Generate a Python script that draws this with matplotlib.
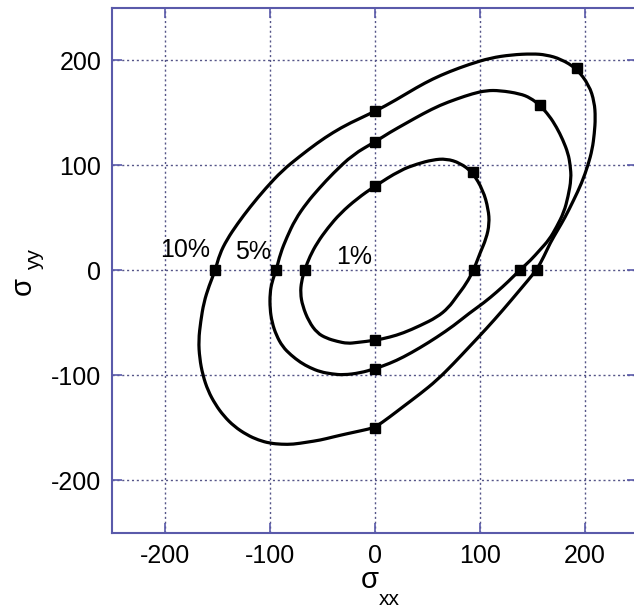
import matplotlib
matplotlib.use("Agg")
import matplotlib.pyplot as plt
from matplotlib.path import Path
from matplotlib.patches import PathPatch

plt.rcParams['font.family'] = ['Liberation Sans', 'DejaVu Sans']

# contour lines (sigma_xx, sigma_yy), closed loops
c1_x = [94, 100, 106, 109, 108, 103, 93, 81, 68, 55, 40, 24, 0, -17, -33, -45, -55, -62, -67, -70, -71, -69, -63, -55, -46, -36, -26, -17, 0, 14, 27, 43, 59, 70, 78, 87]
c1_y = [0, 16, 30, 44, 58, 76, 93, 102, 106, 105, 101, 95, 80, 68, 54, 40, 26, 13, 0, -11, -22, -34, -49, -60, -65, -68, -70, -69, -67, -64, -60, -53, -45, -36, -25, -13]

c5_x = [138, 148, 157, 166, 173, 180, 184, 187, 186, 184, 179, 173, 166, 157, 148, 138, 119, 106, 93, 78, 62, 46, 30, 14, 0, -21, -40, -53, -65, -76, -84, -90, -94, -98, -100, -100, -98, -94, -88, -80, -71, -62, -52, -41, -30, -14, 0, 14, 27, 43, 59, 75, 90, 104, 116, 127]
c5_y = [0, 9, 19, 29, 41, 55, 70, 87, 100, 111, 124, 136, 147, 157, 164, 168, 171, 171, 168, 163, 157, 149, 140, 131, 122, 110, 92, 78, 64, 48, 31, 16, 0, -11, -22, -37, -50, -62, -73, -81, -88, -93, -97, -99, -100, -98, -94, -89, -83, -74, -64, -53, -41, -31, -21, -11]

c10_x = [154, 161, 167, 174, 181, 189, 197, 203, 207, 209, 210, 209, 204, 192, 177, 163, 150, 130, 110, 90, 71, 55, 40, 20, 0, -24, -40, -55, -72, -88, -104, -119, -131, -141, -148, -152, -158, -163, -166, -168, -167, -164, -159, -152, -144, -134, -122, -111, -100, -89, -78, -65, -52, -40, -27, -13, 0, 14, 27, 43, 59, 75, 90, 106, 122, 138]
c10_y = [0, 13, 26, 38, 50, 66, 83, 100, 115, 130, 145, 160, 176, 192, 201, 205, 206, 205, 202, 196, 189, 182, 174, 162, 151, 140, 131, 121, 108, 95, 78, 60, 44, 29, 15, 0, -15, -31, -49, -67, -84, -100, -115, -128, -139, -149, -157, -162, -165, -166, -166, -164, -162, -159, -156, -153, -150, -140, -130, -118, -105, -89, -73, -56, -38, -19]

curves = [(c1_x, c1_y), (c5_x, c5_y), (c10_x, c10_y)]

# marked points: on the axes and on the diagonal
mk_x = [94, -67, 0, 0, 93, 138, -94, 0, 0, 157, 154, -152, 0, 0, 192]
mk_y = [0, 0, 80, -67, 93, 0, 0, 122, -94, 157, 0, 0, 151, -150, 192]

labels = ['10%', '5%', '1%']
label_x = [-181, -116, -20]
label_y = [19, 17, 12]

ticks = [-200, -100, 0, 100, 200]
blue = '#5a5aaa'


def smooth_loop(xs, ys):
    # quadratic bezier pieces through the midpoints, read points as controls
    pts = list(zip(xs, ys))
    n = len(pts)
    mids = [((pts[i][0] + pts[(i + 1) % n][0]) / 2, (pts[i][1] + pts[(i + 1) % n][1]) / 2) for i in range(n)]
    verts = [mids[-1]]
    codes = [Path.MOVETO]
    for i in range(n):
        verts += [pts[i], mids[i]]
        codes += [Path.CURVE3, Path.CURVE3]
    return Path(verts, codes)


fig = plt.figure(figsize=(6.34, 6.09), dpi=100)
ax = fig.add_axes([0.1774, 0.1256, 0.828, 0.862])

for cx, cy in curves:
    ax.add_patch(PathPatch(smooth_loop(cx, cy), fill=False, ec='black', lw=2.3, zorder=3))
ax.plot(mk_x, mk_y, 's', color='black', ms=6.5, zorder=4)

for t, lx, ly in zip(labels, label_x, label_y):
    ax.text(lx, ly, t, fontsize=18, ha='center', va='center', zorder=5)

ax.set_xlim(-250, 250)
ax.set_ylim(-250, 250)
ax.set_xticks(ticks)
ax.set_yticks(ticks)
ax.set_xticklabels([str(t) for t in ticks])
ax.set_yticklabels([str(t) for t in ticks])
ax.tick_params(direction='in', length=7, width=1.2, color=blue, labelsize=18,
               pad=8, top=True, right=True)
ax.grid(True, linestyle=(0, (1.5, 2)), color='#555588', lw=1.0)
for s in ax.spines.values():
    s.set_color(blue)
    s.set_linewidth(1.5)

# axis titles with lowered subscripts
ax.text(0.49, -0.09, 'σ', transform=ax.transAxes, fontsize=21, ha='center', va='center')
ax.text(0.527, -0.127, 'xx', transform=ax.transAxes, fontsize=15, ha='center', va='center')
ax.text(-0.17, 0.47, 'σ', transform=ax.transAxes, fontsize=21, ha='center', va='center', rotation=90)
ax.text(-0.148, 0.52, 'yy', transform=ax.transAxes, fontsize=15, ha='center', va='center', rotation=90)

fig.savefig('out.png', dpi=100)
